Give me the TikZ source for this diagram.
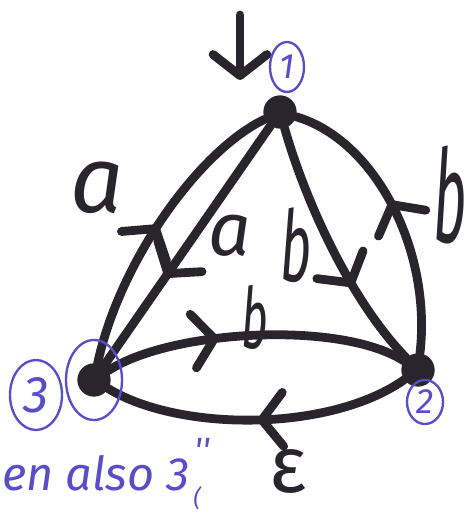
\documentclass[tikz,border=0pt]{standalone}
\usepackage{fontspec}
\newfontfamily\handfont{Fira Sans}
\usetikzlibrary{arrows.meta,decorations.markings,shapes.geometric}
\definecolor{ink}{RGB}{40,38,44}
\definecolor{pen}{RGB}{90,78,200}
\newcommand\squeezed[2]{\scalebox{#1}[1]{#2}}
\begin{document}
\begin{tikzpicture}[x=0.03cm,y=-0.03cm,
  st/.style={circle,fill=ink,minimum size=1cm,inner sep=0pt},
  edge/.style={draw=ink,line width=7.5pt,line cap=round},
  tipat/.style={postaction={decorate,decoration={markings,mark=at position #1 with {\arrow{Straight Barb[length=18pt,width=46pt,round]}}}}},
  lbl/.style={text=ink,inner sep=0pt,font=\handfont\itshape\fontsize{#1}{#1}\selectfont},
  bluering/.style={draw=pen,line width=2pt},
  bluetxt/.style={text=pen,inner sep=0pt,font=\handfont\itshape\fontsize{#1}{#1}\selectfont},
]
\useasboundingbox[fill=white] (0,0) rectangle (471,513);

% states
\node[st] (n1) at (280,112) {};
\node[st] (n2) at (418,370) {};
\node[st] (n3) at (94,380) {};

% initial arrow
\coordinate (i0) at (240,15);
\coordinate (i1) at (240,80);
\draw[edge,-{Straight Barb[length=18pt,width=46pt,round]}] (i0) -- (i1);

% transitions
\draw[edge,tipat=0.5] (n3) .. controls (120,260) and (200,150) .. (n1);
\draw[edge,tipat=0.63] (n1) -- (n3);
\draw[edge,tipat=0.66] (n1) .. controls (305,200) and (350,300) .. (n2);
\draw[edge,tipat=0.55] (n2) .. controls (432,250) and (375,140) .. (n1);
\draw[edge,tipat=0.38] (n3) .. controls (170,330) and (340,320) .. (n2);
\draw[edge,tipat=0.5] (n2) .. controls (330,432) and (180,432) .. (n3);

% edge labels
\node[lbl=80] (la1) at (97,188) {a};
\node[lbl=64] (la2) at (230,236) {a};
\node[lbl=84] (lb1) at (296,245) {\squeezed{0.55}{b}};
\node[lbl=110] (lb2) at (450,195) {\squeezed{0.45}{b}};
\node[lbl=72] (lb3) at (255,317) {\squeezed{0.55}{b}};
\node[lbl=68] (leps) at (288,472) {\upshape ε};

% blue annotations
\draw[bluering] (n3) ellipse [x radius=28, y radius=40];
\node[bluering,ellipse,minimum width=34*0.03cm,minimum height=50*0.03cm,inner sep=0pt] (c1) at (287,67) {};
\node[bluetxt=30] (t1) at (c1) {1};
\node[bluering,ellipse,minimum width=36*0.03cm,minimum height=44*0.03cm,inner sep=0pt] (c2) at (425,402) {};
\node[bluetxt=30] (t2) at (c2) {2};
\node[bluering,ellipse,minimum width=52*0.03cm,minimum height=70*0.03cm,inner sep=0pt] (c3) at (36,395) {};
\node[bluetxt=44] (t3) at (c3) {3};

\node[bluetxt=40,anchor=base west] (note) at (2,490) {en also 3};
\node[bluetxt=30] (ditto) at (202,450) {''};
\node[bluetxt=20] (paren) at (197,498) {(};
\end{tikzpicture}
\end{document}
